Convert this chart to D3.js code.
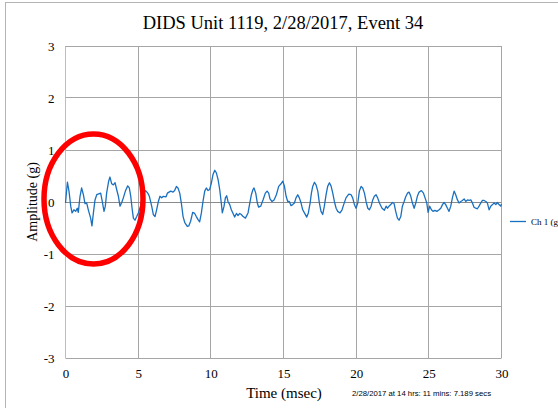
<!DOCTYPE html>
<html>
<head>
<meta charset="utf-8">
<script src="https://cdn.jsdelivr.net/npm/d3@7"></script>
<style>
  body { margin: 0; background: #fff; }
</style>
</head>
<body>
<div class="chart-container"></div>
<script>
// values
const timeMs = [0.00, 0.13, 0.24, 0.36, 0.45, 0.58, 0.70, 0.81, 0.88, 1.00, 1.11, 1.23, 1.34, 1.46, 1.57, 1.73, 1.82, 1.92, 2.03, 2.15,
  2.33, 2.42, 2.51, 2.65, 2.74, 2.83, 2.97, 3.06, 3.18, 3.29, 3.41, 3.52, 3.64, 3.75, 3.87, 3.98, 4.12, 4.28, 4.39, 4.49,
  4.58, 4.67, 4.78, 4.90, 5.01, 5.20, 5.35, 5.47, 5.54, 5.66, 5.77, 5.93, 6.04, 6.16, 6.27, 6.39, 6.50, 6.62, 6.73, 6.92,
  7.01, 7.24, 7.40, 7.51, 7.63, 7.74, 7.86, 7.97, 8.09, 8.20, 8.38, 8.48, 8.61, 8.75, 8.89, 9.00, 9.12, 9.23, 9.35, 9.46,
  9.58, 9.69, 9.81, 9.92, 10.04, 10.15, 10.27, 10.38, 10.50, 10.61, 10.72, 10.79, 10.91, 11.00, 11.09, 11.18, 11.30, 11.41, 11.53, 11.64,
  11.76, 11.87, 11.99, 12.10, 12.22, 12.38, 12.56, 12.68, 12.79, 12.90, 12.97, 13.09, 13.20, 13.29, 13.43, 13.59, 13.75, 13.87, 13.98, 14.07,
  14.21, 14.35, 14.51, 14.67, 14.83, 14.95, 15.06, 15.18, 15.29, 15.40, 15.52, 15.63, 15.75, 15.86, 15.98, 16.09, 16.21, 16.32, 16.44, 16.60,
  16.71, 16.83, 16.92, 17.01, 17.13, 17.24, 17.36, 17.47, 17.58, 17.70, 17.81, 17.93, 18.04, 18.16, 18.27, 18.39, 18.50, 18.62, 18.73, 18.89,
  19.03, 19.14, 19.30, 19.49, 19.65, 19.76, 19.88, 19.99, 20.11, 20.22, 20.34, 20.45, 20.57, 20.68, 20.80, 20.91, 21.03, 21.14, 21.25, 21.37,
  21.48, 21.60, 21.78, 21.94, 22.06, 22.15, 22.26, 22.38, 22.49, 22.61, 22.72, 22.84, 22.95, 23.07, 23.18, 23.30, 23.41, 23.53, 23.64, 23.76,
  23.87, 23.99, 24.10, 24.21, 24.33, 24.49, 24.63, 24.74, 24.86, 24.95, 25.06, 25.18, 25.29, 25.41, 25.55, 25.71, 25.82, 25.94, 26.05, 26.16,
  26.28, 26.39, 26.51, 26.62, 26.74, 26.85, 26.97, 27.08, 27.20, 27.31, 27.43, 27.54, 27.66, 27.77, 27.89, 28.00, 28.11, 28.23, 28.34, 28.46,
  28.57, 28.69, 28.80, 28.92, 29.03, 29.15, 29.26, 29.38, 29.49, 29.61, 29.72, 29.83, 29.95, 30.00];

const ch1 = [-0.02, 0.38, 0.21, -0.08, -0.21, -0.15, -0.18, -0.12, -0.20, 0.11, 0.27, 0.14, -0.03, -0.02, -0.15, -0.31, -0.46, -0.21, 0.04, 0.14,
  0.16, 0.17, 0.04, -0.18, -0.08, 0.17, 0.40, 0.48, 0.35, 0.33, 0.37, 0.24, 0.11, -0.08, -0.01, 0.08, 0.21, 0.31, 0.27, 0.11,
  -0.12, -0.31, -0.35, -0.28, -0.21, -0.05, 0.12, 0.22, 0.21, 0.17, 0.11, -0.08, -0.24, -0.28, -0.15, 0.01, 0.11, 0.08, 0.11, 0.10,
  0.17, 0.21, 0.19, 0.22, 0.30, 0.27, 0.17, -0.02, -0.28, -0.39, -0.47, -0.46, -0.37, -0.20, -0.22, -0.28, -0.34, -0.38, -0.21, 0.01,
  0.21, 0.27, 0.22, 0.24, 0.37, 0.53, 0.61, 0.56, 0.43, 0.24, -0.02, -0.21, -0.08, 0.08, 0.12, 0.01, -0.05, -0.15, -0.22, -0.29,
  -0.22, -0.26, -0.22, -0.24, -0.28, -0.31, -0.21, -0.02, 0.14, 0.24, 0.27, 0.17, -0.02, -0.10, -0.08, 0.04, 0.17, 0.21, 0.17, 0.06,
  0.01, 0.04, 0.14, 0.30, 0.35, 0.40, 0.31, 0.11, 0.01, 0.01, -0.07, -0.05, -0.02, 0.08, 0.14, 0.08, -0.02, -0.15, -0.21, -0.29,
  -0.21, -0.02, 0.17, 0.30, 0.38, 0.33, 0.21, -0.02, -0.18, -0.24, -0.08, 0.14, 0.30, 0.37, 0.31, 0.17, 0.01, -0.12, -0.18, -0.21,
  -0.15, -0.05, 0.08, 0.15, 0.14, 0.08, -0.05, -0.12, -0.02, 0.21, 0.30, 0.27, 0.17, 0.01, -0.12, -0.15, -0.08, 0.04, 0.11, 0.14,
  0.08, -0.02, -0.12, -0.16, -0.08, -0.12, -0.08, -0.05, -0.01, -0.03, -0.18, -0.31, -0.35, -0.28, -0.08, 0.01, 0.10, 0.17, 0.19, 0.11,
  -0.02, -0.12, -0.02, 0.11, 0.19, 0.22, 0.17, 0.08, -0.02, -0.20, -0.08, -0.15, -0.18, -0.16, -0.18, -0.15, -0.12, -0.05, -0.01, -0.05,
  -0.12, -0.18, -0.08, 0.08, 0.21, 0.14, 0.04, -0.02, 0.01, 0.03, 0.06, 0.01, 0.04, 0.03, 0.04, -0.02, -0.10, -0.12, -0.13, -0.08,
  -0.02, 0.03, 0.03, 0.01, -0.02, -0.15, -0.08, -0.05, -0.02, -0.05, -0.01, -0.05, -0.08, -0.04];

const xTicks = [0, 5, 10, 15, 20, 25, 30];
const yTicks = [-3, -2, -1, 0, 1, 2, 3];
const seriesName = "Ch 1 (g)";
const chartTitle = "DIDS Unit 1119, 2/28/2017, Event 34";
const stampText = "2/28/2017 at 14 hrs: 11 mins: 7.189 secs";

function drawWaveChart() {
    const width = 558,
        height = 408;
    const margin = { top: 46, right: 56.5, bottom: 50, left: 65.5 };
    const serif = "'Liberation Serif', 'Times New Roman', serif";

    const svg = d3.select(".chart-container").append("svg")
        .attr("width", width)
        .attr("height", height)
        .style("display", "block")
        .style("background", "#fff");

    // chart frame (runs past the window on the right and bottom)
    svg.append("rect")
        .attr("x", 5.5)
        .attr("y", 2.5)
        .attr("width", 700)
        .attr("height", 500)
        .attr("fill", "none")
        .attr("stroke", "#b4b4b4");

    const x = d3.scaleLinear()
        .domain([0, 30])
        .range([margin.left, width - margin.right]);

    const y = d3.scaleLinear()
        .domain([-3, 3])
        .range([height - margin.bottom, margin.top]);

    const snap = v => Math.round(v - 0.5) + 0.5;

    // grid
    svg.append("g").selectAll("line")
        .data(xTicks)
        .enter()
        .append("line")
            .attr("x1", d => snap(x(d)))
            .attr("x2", d => snap(x(d)))
            .attr("y1", y(3))
            .attr("y2", y(-3))
            .attr("stroke", d => d === 0 ? "#bdbdbd" : "#a6a6a6");

    svg.append("g").selectAll("line")
        .data(yTicks)
        .enter()
        .append("line")
            .attr("x1", x(0))
            .attr("x2", snap(x(30)))
            .attr("y1", d => snap(y(d)))
            .attr("y2", d => snap(y(d)))
            .attr("stroke", d => d === 0 ? "#8a8a8a" : "#a6a6a6");

    const xAxis = g =>
        g.attr("transform", `translate(0, ${height - margin.bottom})`)
        .call(d3.axisBottom(x).tickValues(xTicks).tickFormat(d3.format("d")).tickSize(0).tickPadding(11));

    const yAxis = g =>
        g.attr("transform", `translate(${margin.left}, 0)`)
        .call(d3.axisLeft(y).tickValues(yTicks).tickFormat(d => d < 0 ? "-" + Math.abs(d) : String(d)).tickSize(0).tickPadding(11));

    const points = timeMs.map((t, i) => ({ t: t, v: ch1[i] }));

    const line = d3.line()
        .x(d => x(d.t))
        .y(d => y(d.v));

    svg.append("path")
        .datum(points)
        .attr("d", line)
        .attr("fill", "none")
        .attr("stroke", "#1a70c0")
        .attr("stroke-width", 1.3)
        .attr("stroke-linejoin", "round");

    // title and axis titles
    svg.append("text")
        .attr("x", 283)
        .attr("y", 29)
        .attr("text-anchor", "middle")
        .style("font-family", serif)
        .style("font-size", "18.5px")
        .text(chartTitle);

    svg.append("text")
        .attr("x", 284)
        .attr("y", 398)
        .attr("text-anchor", "middle")
        .style("font-family", serif)
        .style("font-size", "15px")
        .text("Time (msec)");

    svg.append("text")
        .attr("transform", `translate(37, ${y(0)}) rotate(-90)`)
        .attr("text-anchor", "middle")
        .style("font-family", serif)
        .style("font-size", "14px")
        .text("Amplitude (g)");

    svg.append("text")
        .attr("x", 352)
        .attr("y", 396)
        .attr("textLength", 139)
        .attr("lengthAdjust", "spacingAndGlyphs")
        .style("font-family", "'Liberation Sans', Arial, sans-serif")
        .style("font-size", "7.5px")
        .text(stampText);

    // legend (the reference crops its label at the window edge)
    svg.append("line")
        .attr("x1", 510)
        .attr("x2", 526)
        .attr("y1", 221.5)
        .attr("y2", 221.5)
        .attr("stroke", "#1a70c0")
        .attr("stroke-width", 1.3);

    svg.append("text")
        .attr("x", 531)
        .attr("y", 224.5)
        .style("font-family", serif)
        .style("font-size", "9px")
        .text(seriesName);

    // red highlight ring
    svg.append("ellipse")
        .attr("cx", 93.5)
        .attr("cy", 199)
        .attr("rx", 49.5)
        .attr("ry", 65)
        .attr("fill", "none")
        .attr("stroke", "#ff0000")
        .attr("stroke-width", 5.5);

    // tick labels drawn last so they sit above the ring
    [xAxis, yAxis].forEach(ax => {
        const g = svg.append("g").call(ax);
        g.select(".domain").remove();
        g.selectAll("text")
            .style("font-family", serif)
            .style("font-size", "13px")
            .attr("fill", "#000");
    });
}

drawWaveChart();
</script>
</body>
</html>
